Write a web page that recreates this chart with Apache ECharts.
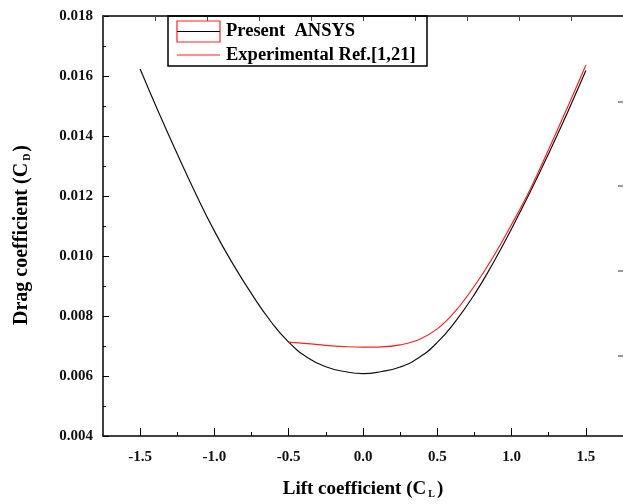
<!DOCTYPE html>
<html><head><meta charset="utf-8">
<script src="https://cdn.jsdelivr.net/npm/echarts@6/dist/echarts.min.js"></script>
<style>html,body{margin:0;padding:0;background:#fff}#c{width:623px;height:504px}</style>
</head><body><div id="c"></div>
<script>
// Present ANSYS (black)
const clAnsys = [-1.5,-1.375,-1.25,-1.125,-1.0,-0.875,-0.75,-0.625,-0.5,-0.375,-0.25,-0.125,0,0.125,0.25,0.375,0.5,0.625,0.75,0.875,1.0,1.125,1.25,1.375,1.5];
const cdAnsys = [0.01623,0.01478,0.01340,0.01207,0.01083,0.00973,0.00874,0.00785,0.00713,0.00662,0.00631,0.00615,0.00608,0.00615,0.00630,0.00661,0.00712,0.00784,0.00872,0.00976,0.01091,0.01213,0.01342,0.01477,0.01618];
// Experimental Ref.[1,21] (red)
const clExp = [-0.5,-0.375,-0.25,-0.125,0,0.125,0.25,0.375,0.5,0.625,0.75,0.875,1.0,1.125,1.25,1.375,1.5];
const cdExp = [0.00713,0.00708,0.00702,0.00698,0.00696,0.00697,0.00704,0.00721,0.00757,0.00818,0.00900,0.00996,0.01105,0.01222,0.01356,0.01494,0.01636];
const xMajorTicks = [-1.5,-1.0,-0.5,0,0.5,1.0,1.5];
const xMinorTicks = [-1.25,-0.75,-0.25,0.25,0.75,1.25];
const seriesNames = ['Present  ANSYS','Experimental Ref.[1,21]'];

const FONT = 'Liberation Serif, Times New Roman, serif';
const pair = (xs, ys) => xs.map((x, i) => [x, ys[i]]);
const titleRich = (size) => ({
  a: {fontFamily: FONT, fontWeight: 'bold', fontSize: size, color: '#000', verticalAlign: 'bottom', lineHeight: size + 4},
  s: {fontFamily: FONT, fontWeight: 'bold', fontSize: 10, color: '#000', verticalAlign: 'bottom', lineHeight: size - 2, padding: [0, 2, 0, 2]}
});

const chart = echarts.init(document.getElementById('c'), null, {renderer:'canvas'});
chart.setOption({
  animation: false,
  backgroundColor: '#fff',
  grid: {left: 103, top: 16, width: 524, height: 424.5, containLabel: false},
  xAxis: [{
    type: 'value', position: 'bottom', min: -1.75, max: 1.75,
    axisLine: {show: true, onZero: false, lineStyle: {color: '#000', width: 1.5}},
    axisTick: {show: true, inside: true, length: 8, customValues: xMajorTicks, lineStyle: {color: '#000', width: 1}},
    axisLabel: {show: true, customValues: xMajorTicks, margin: 14, color: '#111', fontFamily: FONT, fontWeight: 'bold', fontSize: 15,
      formatter: v => v.toFixed(1)},
    splitLine: {show: false},
    name: '{a|Lift coefficient (C}{s|L}{a|)}', nameLocation: 'middle', nameGap: 40,
    nameTextStyle: {rich: titleRich(19)}
  }, {
    type: 'value', position: 'bottom', min: -1.75, max: 1.75,
    axisLine: {show: false, onZero: false},
    axisTick: {show: true, inside: true, length: 4, customValues: xMinorTicks, lineStyle: {color: '#000', width: 1}},
    axisLabel: {show: false},
    splitLine: {show: false}
  }, {
    type: 'value', position: 'top', min: 0, max: 10, interval: 1,
    axisLine: {show: true, onZero: false, lineStyle: {color: '#000', width: 1.5}},
    axisTick: {show: true, inside: true, length: 5, lineStyle: {color: '#444', width: 1}},
    axisLabel: {show: false},
    splitLine: {show: false}
  }],
  yAxis: {
    type: 'value', min: 0.004, max: 0.018, interval: 0.002,
    axisLine: {show: true, onZero: false, lineStyle: {color: '#000', width: 1.5}},
    axisTick: {show: true, inside: true, length: 6, lineStyle: {color: '#000', width: 1}},
    minorTick: {show: true, splitNumber: 2, length: 3, lineStyle: {color: '#000', width: 1}},
    axisLabel: {margin: 10, color: '#111', fontFamily: FONT, fontWeight: 'bold', fontSize: 15,
      formatter: v => v.toFixed(3)},
    splitLine: {show: false},
    name: '{a|Drag coefficient (C}{s|D}{a|)}', nameLocation: 'middle', nameGap: 71,
    nameTextStyle: {rich: titleRich(20), padding: [0, 18, 0, 0]}
  },
  series: [{
    name: seriesNames[0], type: 'line', xAxisIndex: 0, data: pair(clAnsys, cdAnsys),
    smooth: 0.5, showSymbol: false, symbol: 'none',
    lineStyle: {color: '#111', width: 1.2}, z: 2
  }, {
    name: seriesNames[1], type: 'line', xAxisIndex: 0, data: pair(clExp, cdExp),
    smooth: 0.4, showSymbol: false, symbol: 'none',
    lineStyle: {color: '#ff2020', width: 1.2}, z: 3
  }],
  graphic: [
    {type: 'rect', shape: {x: 168, y: 16, width: 259, height: 50}, style: {fill: 'none', stroke: '#000', lineWidth: 1.5}, z: 10},
    {type: 'rect', shape: {x: 177, y: 21, width: 43, height: 21}, style: {fill: 'none', stroke: '#ff2020', lineWidth: 1.2}, z: 10},
    {type: 'line', shape: {x1: 177, y1: 31.5, x2: 220, y2: 31.5}, style: {stroke: '#000', lineWidth: 1}, z: 10},
    {type: 'line', shape: {x1: 177, y1: 55, x2: 220, y2: 55}, style: {stroke: '#ff2020', lineWidth: 1.2}, z: 10},
    {type: 'text', x: 226, y: 31, style: {text: seriesNames[0], font: 'bold 18.5px ' + FONT, fill: '#000', verticalAlign: 'middle'}, z: 10},
    {type: 'text', x: 226, y: 55, style: {text: seriesNames[1], font: 'bold 18.5px ' + FONT, fill: '#000', verticalAlign: 'middle'}, z: 10},
    {type: 'line', shape: {x1: 618, y1: 102, x2: 623, y2: 102}, style: {stroke: '#333', lineWidth: 1}},
    {type: 'line', shape: {x1: 618, y1: 186, x2: 623, y2: 186}, style: {stroke: '#333', lineWidth: 1}},
    {type: 'line', shape: {x1: 618, y1: 271, x2: 623, y2: 271}, style: {stroke: '#333', lineWidth: 1}},
    {type: 'line', shape: {x1: 618, y1: 356, x2: 623, y2: 356}, style: {stroke: '#333', lineWidth: 1}}
  ]
});
</script>
</body></html>
